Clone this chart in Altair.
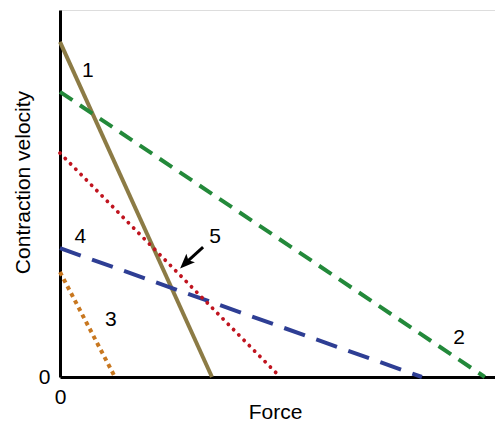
import altair as alt
import pandas as pd

# Curves: name, velocity intercept (at force 0), force intercept (at velocity 0)
series = ["1", "2", "3", "4", "5"]
v_max = [91.3, 77.7, 28.6, 35.1, 61.0]
f_max = [34.3, 95.9, 12.4, 81.7, 49.7]
colors = ["#8c7b45", "#23893a", "#c8771f", "#2e3e94", "#c0141f"]

# Curve labels
label_text = ["1", "2", "3", "4", "5"]
label_x = [6.3, 90.1, 11.5, 4.6, 35.0]
label_y = [83.4, 10.6, 15.5, 38.2, 38.1]

# Arrow (tail -> head) pointing at the crossing near label 5
arrow_tail = [32.3, 35.4]
arrow_head = [28.4, 31.1]

rows = []
for s, v, f in zip(series, v_max, f_max):
    rows.append({"series": s, "force": 0.0, "velocity": v})
    rows.append({"series": s, "force": f, "velocity": 0.0})
df = pd.DataFrame(rows)

labels = pd.DataFrame({"t": label_text, "force": label_x, "velocity": label_y})
arrow = pd.DataFrame({"force": [arrow_tail[0]], "velocity": [arrow_tail[1]],
                      "force2": [arrow_head[0]], "velocity2": [arrow_head[1]]})

FONT = "Liberation Sans"

xscale = alt.Scale(domain=[0, 98.2], nice=False, zero=False)
yscale = alt.Scale(domain=[0, 100], nice=False, zero=False)

xaxis = alt.Axis(values=[0], grid=False, ticks=False, tickSize=0, domainColor="black",
                 domainWidth=3, labelFontSize=21, labelFont=FONT, labelColor="black",
                 labelFlush=False, labelPadding=9, title="Force", titleFont=FONT,
                 titleFontSize=21, titleFontWeight="normal", titleColor="black",
                 titleX=215, titleY=41, titleBaseline="alphabetic")
yaxis = alt.Axis(values=[0], grid=False, ticks=False, tickSize=0, domainColor="black",
                 domainWidth=3, labelFontSize=21, labelFont=FONT, labelColor="black",
                 labelFlush=False, labelPadding=10, title="Contraction velocity",
                 titleFont=FONT, titleFontSize=21, titleFontWeight="normal",
                 titleColor="black", titleX=-31, titleY=172, titleAngle=-90,
                 titleBaseline="alphabetic")

X = alt.X("force:Q", scale=xscale, axis=xaxis)
Y = alt.Y("velocity:Q", scale=yscale, axis=yaxis)

styles = {
    "1": dict(strokeWidth=4),
    "2": dict(strokeWidth=4, strokeDash=[15, 9]),
    "3": dict(strokeWidth=4, strokeDash=[4, 4]),
    "4": dict(strokeWidth=4, strokeDash=[22, 12]),
    "5": dict(strokeWidth=3.8, strokeDash=[0.1, 7.4], strokeCap="round"),
}

layers = []
for s, c in zip(series, colors):
    layers.append(
        alt.Chart(df).transform_filter(alt.datum.series == s)
        .mark_line(color=c, **styles[s]).encode(x=X, y=Y)
    )

shaft = alt.Chart(arrow).mark_rule(color="black", strokeWidth=3).encode(
    x=X, y=Y, x2="force2:Q", y2="velocity2:Q")

head = alt.Chart(arrow).mark_point(
    shape="M0,-1 L0.75,0.85 L0,0.45 L-0.75,0.85 Z", filled=True, color="black",
    opacity=1, size=260, angle=225).encode(
    x=alt.X("force2:Q", scale=xscale, axis=xaxis),
    y=alt.Y("velocity2:Q", scale=yscale, axis=yaxis))

text = alt.Chart(labels).mark_text(font=FONT, fontSize=21, color="black").encode(
    x=X, y=Y, text="t:N")

chart = alt.layer(*layers, shaft, head, text).properties(
    width=435, height=367,
    autosize=alt.AutoSizeParams(type="none"),
    padding={"left": 52, "top": 2, "right": 0, "bottom": 44},
).configure_view(strokeOpacity=0, strokeWidth=0).configure(background="white")

chart.save("out.html", embed_options={"renderer": "svg", "actions": False})
